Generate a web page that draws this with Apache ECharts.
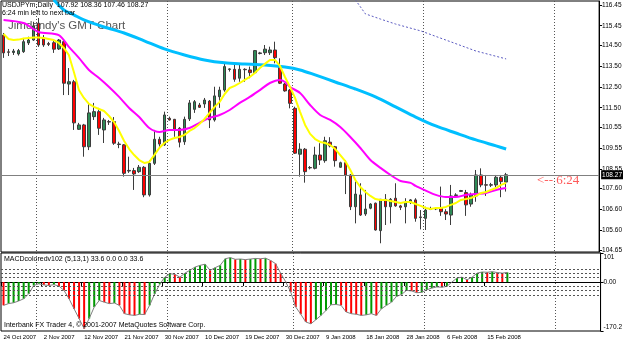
<!DOCTYPE html>
<html>
<head>
<meta charset="utf-8" />
<title>USDJPYm Daily</title>
<style>
html,body{margin:0;padding:0;background:#fff;}
#chart{width:625px;height:342px;}
</style>
</head>
<body>
<div id="chart"></div>
<script src="https://cdn.jsdelivr.net/npm/echarts@6/dist/echarts.min.js"></script>
<script>
// bar slots across the window (the last ones are still empty)
var slots = 119;
var labelStep = 8;
var dateLabels = ['24 Oct 2007', '2 Nov 2007', '12 Nov 2007', '21 Nov 2007', '30 Nov 2007', '10 Dec 2007',
	'19 Dec 2007', '30 Dec 2007', '9 Jan 2008', '18 Jan 2008', '28 Jan 2008', '6 Feb 2008', '15 Feb 2008'];
var monthStarts = [7, 33, 58, 84, 110];
var priceTicks = [116.45, 115.45, 114.50, 113.50, 112.50, 111.50, 110.55, 109.55, 108.55, 107.60, 106.60, 105.60, 104.65];
var lastPrice = 108.27;
var macdTicks = [101, 0, -170.2];
var macdLevels = [45, 30, 15, -15, -30, -45];

// [open, close, low, high]
var candles = [
	[115.00, 114.14, 113.90, 115.10], [114.19, 114.17, 113.99, 114.33], [114.16, 114.23, 114.04, 114.33], [114.09, 114.25, 114.01, 114.33],
	[114.20, 114.68, 114.14, 114.86], [114.62, 114.76, 114.52, 114.92], [114.76, 115.44, 114.72, 115.64], [115.57, 114.52, 114.43, 115.82],
	[114.86, 114.52, 114.43, 115.00], [114.59, 114.55, 114.47, 114.67], [114.63, 114.32, 114.14, 114.72], [114.33, 114.76, 114.28, 114.81],
	[114.68, 112.68, 112.11, 114.76], [112.64, 112.75, 112.11, 113.41], [112.75, 110.77, 110.43, 112.84], [110.46, 110.67, 110.43, 110.77],
	[110.67, 109.62, 109.14, 110.72], [109.62, 111.25, 109.46, 111.73], [111.07, 111.31, 110.91, 111.73], [111.31, 110.51, 110.19, 111.49],
	[110.43, 110.91, 109.80, 111.01], [110.83, 110.81, 110.67, 110.91], [110.83, 109.79, 109.71, 111.05], [109.75, 109.73, 109.55, 109.86],
	[109.71, 108.34, 108.18, 109.75], [108.48, 108.45, 108.36, 109.14], [108.47, 108.31, 107.54, 108.60], [108.42, 108.63, 108.36, 108.74],
	[108.63, 107.30, 107.19, 108.69], [107.30, 108.82, 107.22, 108.98], [108.82, 109.98, 108.74, 110.43], [109.98, 109.75, 109.62, 110.10],
	[109.71, 111.15, 109.66, 111.31], [110.99, 110.91, 110.88, 111.07], [110.94, 110.46, 110.10, 110.96], [110.51, 109.84, 109.59, 110.57],
	[109.86, 110.94, 109.71, 111.07], [110.96, 111.73, 110.86, 111.87], [111.42, 111.79, 111.25, 111.87], [111.63, 111.52, 111.49, 111.73],
	[111.68, 111.87, 111.49, 111.97], [111.82, 110.91, 110.52, 111.87], [110.91, 112.07, 110.83, 112.51], [112.03, 112.35, 111.49, 112.51],
	[112.35, 113.48, 112.27, 113.67], [113.34, 113.37, 113.24, 113.40], [113.35, 112.87, 112.75, 113.56], [112.92, 113.35, 112.75, 113.64],
	[113.35, 113.33, 112.75, 113.40], [113.32, 113.19, 112.92, 113.48], [113.19, 114.25, 113.16, 114.28], [114.11, 114.14, 114.07, 114.19],
	[114.15, 114.32, 114.04, 114.52], [114.15, 114.28, 114.04, 114.44], [114.28, 113.91, 113.64, 114.68], [113.48, 112.68, 112.64, 113.88],
	[112.64, 112.31, 112.27, 112.69], [112.35, 111.71, 111.47, 112.40], [111.47, 109.31, 109.27, 111.55], [109.26, 109.50, 108.18, 109.79],
	[109.50, 108.42, 107.89, 109.56], [108.62, 108.60, 108.53, 108.69], [108.58, 109.22, 108.53, 109.62], [109.22, 108.98, 108.74, 109.79],
	[108.95, 109.91, 108.85, 110.10], [109.84, 109.66, 109.59, 110.08], [109.62, 108.95, 108.66, 109.66], [108.63, 108.85, 108.61, 108.90],
	[108.85, 108.26, 107.34, 108.98], [108.26, 106.73, 106.57, 108.31], [106.73, 107.34, 105.93, 107.94], [107.30, 106.33, 106.29, 107.86],
	[106.38, 106.62, 106.29, 107.54], [106.66, 106.86, 106.61, 106.90], [106.90, 105.61, 105.58, 106.93], [105.58, 107.09, 104.97, 107.10],
	[107.09, 106.73, 105.85, 107.34], [106.73, 107.09, 105.93, 107.15], [107.14, 106.77, 106.73, 107.86], [106.77, 106.70, 106.57, 106.82],
	[106.73, 106.93, 105.93, 107.14], [106.93, 107.06, 106.86, 107.10], [107.06, 106.17, 106.01, 107.14], [106.24, 106.21, 105.64, 106.57],
	[106.17, 106.57, 105.61, 106.73], [106.60, 106.62, 106.57, 106.73], [106.63, 106.64, 106.57, 106.67], [106.66, 106.49, 106.29, 107.70],
	[106.49, 106.38, 106.09, 106.61], [106.33, 107.25, 105.85, 107.78], [107.27, 107.30, 107.19, 107.38], [107.47, 107.51, 107.44, 107.54],
	[107.41, 106.82, 106.29, 107.54], [106.86, 107.30, 106.73, 107.41], [107.25, 108.26, 106.97, 108.50], [108.26, 107.78, 107.67, 108.58],
	[107.79, 107.77, 107.25, 108.26], [107.77, 107.79, 107.68, 107.88], [107.78, 108.15, 107.67, 108.26], [108.15, 107.94, 107.19, 108.26],
	[107.92, 108.27, 107.46, 108.36]
];

// yellow average, one value per bar
var fastMa = [115.05, 114.81, 114.76, 114.78, 114.83, 114.86, 114.88, 114.88, 114.86, 114.81, 114.76,
	114.62, 114.38, 114.04, 113.22, 112.35, 111.97, 111.68, 111.54, 111.44, 111.34,
	111.10, 110.81, 110.38, 109.90, 109.51, 109.22, 108.98, 108.84, 108.89, 109.22,
	109.56, 109.80, 109.95, 110.04, 110.09, 110.19, 110.38, 110.52, 110.72, 110.96,
	111.25, 111.54, 111.78, 112.16, 112.45, 112.55, 112.69, 112.84, 112.98, 113.17,
	113.41, 113.61, 113.80, 113.80, 113.51, 112.98, 112.50, 111.97, 111.30, 110.67,
	110.24, 109.99, 109.85, 109.80, 109.70, 109.51, 109.22, 108.93, 108.50, 108.02,
	107.68, 107.44, 107.25, 107.10, 107.06, 107.06, 107.01, 106.96, 106.91, 106.96,
	106.96, 106.86, 106.77, 106.67, 106.62, 106.67, 106.67, 106.72, 106.82, 106.91,
	107.06, 107.10, 107.15, 107.25, 107.39, 107.44, 107.54, 107.63, 107.78, 107.88];

// magenta average, [bar, price]
var midMa = [[0, 115.73], [4, 115.58], [7, 115.15], [11, 115.00], [13, 114.43], [15, 113.90], [17, 113.32],
	[19, 112.93], [21, 112.50], [23, 112.02], [25, 111.49], [27, 111.05], [29, 110.52], [31, 110.33],
	[33, 110.43], [35, 110.43], [37, 110.52], [39, 110.77], [41, 111.01], [43, 111.15], [45, 111.39],
	[47, 111.73], [49, 112.02], [51, 112.35], [53, 112.69], [55, 112.84], [56, 112.74], [57, 112.50],
	[59, 112.21], [61, 111.63], [63, 111.15], [65, 110.91], [67, 110.57], [69, 110.09], [71, 109.56],
	[73, 108.98], [75, 108.60], [77, 108.26], [79, 107.97], [81, 107.88], [82, 107.73], [84, 107.51],
	[86, 107.30], [88, 107.20], [90, 107.20], [92, 107.30], [94, 107.34], [96, 107.39], [98, 107.54], [100, 107.63]];

// cyan average
var slowMa = [[10, 116.70], [12, 116.21], [14, 115.97], [16, 115.73], [20, 115.39], [24, 115.10], [28, 114.72],
	[32, 114.33], [36, 114.04], [40, 113.80], [44, 113.66], [48, 113.61], [52, 113.56], [56, 113.46],
	[59, 113.32], [62, 113.08], [66, 112.74], [70, 112.40], [74, 112.02], [78, 111.54], [82, 111.05],
	[86, 110.62], [90, 110.28], [94, 109.95], [98, 109.66], [100, 109.51]];

// dotted long average, only its tail is inside the window
var longMa = [[70, 116.70], [72, 116.02], [75, 115.77], [78, 115.53], [83, 115.20], [88, 114.76], [94, 114.23], [100, 113.85]];

var macd = [-81, -75, -72, -66, -58, -41, -12, -6, -10, -12, -9, -14, -29, -58, -93, -127, -162, -127, -87, -64,
	-70, -75, -73, -81, -110, -114, -116, -112, -113, -81, -41, -8, 17, 29, 27, 17, 31, 41, 52, 58,
	62, 41, 50, 58, 81, 85, 79, 80, 78, 80, 82, 81, 83, 75, 64, 31, 1, -35, -87, -112,
	-139, -145, -131, -116, -99, -79, -78, -81, -104, -110, -112, -116, -114, -110, -116, -93, -81, -70, -50, -43,
	-29, -31, -37, -36, -27, -21, -17, -18, -15, 0, 14, 17, 8, 17, 31, 35, 34, 36, 33, 31, 33.6];

var days = [];
for (var i = 0; i < slots; i++) days.push(String(i));

// green while the histogram rises, red while it falls
var macdBars = macd.map(function (v, i) {
	var up = i > 0 && v >= macd[i - 1];
	return { value: v, itemStyle: { color: up ? '#009a00' : '#ff0000' } };
});

var font = 'Liberation Sans';
var dotted = { color: '#555', width: 1, type: [1, 2] };
function isMonth(idx) { return monthStarts.indexOf(idx) > -1; }
function isLabel(idx) { return idx % labelStep === 0 && idx / labelStep < dateLabels.length; }

var myChart = echarts.init(document.getElementById('chart'));
var option = {
	animation: false,
	backgroundColor: '#fff',
	grid: [
		{ left: 1, right: 24, top: 1, height: 251, show: true, borderColor: '#000', borderWidth: 1 },
		{ left: 1, right: 24, top: 253, height: 78, show: true, borderColor: '#000', borderWidth: 1 }
	],
	xAxis: [{
		type: 'category', gridIndex: 0, data: days, boundaryGap: true,
		axisLine: { show: false }, axisTick: { show: false }, axisLabel: { show: false },
		splitLine: { show: true, interval: isMonth, lineStyle: dotted }
	}, {
		type: 'category', gridIndex: 1, data: days, boundaryGap: true,
		axisLine: { show: true, lineStyle: { color: '#000' } },
		axisTick: { show: true, interval: isLabel, length: 4, lineStyle: { color: '#000' } },
		axisLabel: {
			interval: isLabel, align: 'left', margin: 3, fontSize: 6, color: '#000', fontFamily: font,
			formatter: function (v, idx) { return dateLabels[idx / labelStep]; }
		},
		splitLine: { show: true, interval: isMonth, lineStyle: dotted }
	}],
	yAxis: [{
		type: 'value', gridIndex: 0, position: 'right', min: 104.55, max: 116.64, scale: true,
		axisLine: { show: true, lineStyle: { color: '#000' } },
		axisTick: { show: true, length: 3, customValues: priceTicks, lineStyle: { color: '#000' } },
		axisLabel: {
			customValues: priceTicks, margin: 3, fontSize: 6.5, color: '#000', fontFamily: font,
			formatter: function (v) { return v.toFixed(2); }
		},
		splitLine: { show: false }
	}, {
		type: 'value', gridIndex: 1, position: 'right', min: -170.2, max: 101,
		axisLine: { show: true, lineStyle: { color: '#000' } },
		axisTick: { show: true, length: 3, customValues: macdTicks, lineStyle: { color: '#000' } },
		axisLabel: {
			customValues: macdTicks, margin: 3, fontSize: 6.5, color: '#000', fontFamily: font,
			formatter: function (v) {
				if (v === 0) return '0.00';
				return v > 0 ? '{top|' + v + '}' : '{bot|' + v + '}';
			},
			rich: {
				top: { fontSize: 6.5, fontFamily: font, color: '#000', padding: [9, 0, 0, 0] },
				bot: { fontSize: 6.5, fontFamily: font, color: '#000', padding: [0, 0, 8, 0] }
			}
		},
		splitLine: { show: false }
	}],
	series: [{
		type: 'candlestick', xAxisIndex: 0, yAxisIndex: 0, data: candles, barWidth: 3,
		itemStyle: { color: '#2e8b57', color0: '#ff0000', borderColor: '#3c3c3c', borderColor0: '#3c3c3c', borderWidth: 1 }
	}, {
		type: 'line', xAxisIndex: 0, yAxisIndex: 0, data: longMa, showSymbol: false, symbol: 'none',
		lineStyle: { color: '#5a5ac0', width: 1, type: [2, 2] }
	}, {
		type: 'line', xAxisIndex: 0, yAxisIndex: 0, data: slowMa, smooth: 0.3, symbol: 'none',
		lineStyle: { color: '#00bfff', width: 3 }
	}, {
		type: 'line', xAxisIndex: 0, yAxisIndex: 0, data: midMa, smooth: 0.3, symbol: 'none',
		lineStyle: { color: '#ff00ff', width: 2 }
	}, {
		type: 'line', xAxisIndex: 0, yAxisIndex: 0, data: fastMa, symbol: 'none',
		lineStyle: { color: '#ffff00', width: 2 },
		markLine: {
			silent: true, symbol: 'none', animation: false,
			lineStyle: { color: '#808080', width: 1, type: 'solid' },
			label: {
				position: 'end', distance: 2, formatter: lastPrice.toFixed(2), fontSize: 6.5, fontFamily: font,
				color: '#fff', backgroundColor: '#000', padding: [1, 1, 1, 1]
			},
			data: [{ yAxis: lastPrice }]
		}
	}, {
		type: 'bar', xAxisIndex: 1, yAxisIndex: 1, data: macdBars, barWidth: 2,
		markLine: {
			silent: true, symbol: 'none', animation: false, label: { show: false },
			lineStyle: { color: '#555', width: 1, type: [2, 2] },
			data: macdLevels.map(function (v) { return { yAxis: v }; })
		}
	}, {
		type: 'line', xAxisIndex: 1, yAxisIndex: 1, data: macd, symbol: 'none',
		lineStyle: { color: '#808080', width: 1 }
	}],
	graphic: [
		{ type: 'text', left: 2, top: 2, z: 100, style: { text: 'USDJPYm,Daily  107.92 108.36 107.46 108.27', fontSize: 7, fontFamily: font, fill: '#000' } },
		{ type: 'text', left: 2, top: 10, z: 100, style: { text: '6:24 min left to next bar', fontSize: 7, fontFamily: font, fill: '#000' } },
		{ type: 'text', left: 8, top: 20, z: 1, style: { text: "Jimdandy's GMT Chart", fontSize: 11.5, fontFamily: font, fill: '#555' } },
		{ type: 'text', left: 4, top: 256, z: 100, style: { text: 'MACDcoloredv102 (5,13,1) 33.6 0.0 0.0 33.6', fontSize: 7, fontFamily: font, fill: '#000' } },
		{ type: 'text', left: 4, top: 322, z: 100, style: { text: 'Interbank FX Trader 4, \u00a9 2001-2007 MetaQuotes Software Corp.', fontSize: 7, fontFamily: font, fill: '#000' } },
		{ type: 'text', left: 537, top: 174, z: 100, style: { text: '<-- 6:24', fontSize: 13, fontFamily: 'Liberation Serif', fill: '#ff5a5a' } }
	]
};
myChart.setOption(option);
</script>
</body>
</html>
